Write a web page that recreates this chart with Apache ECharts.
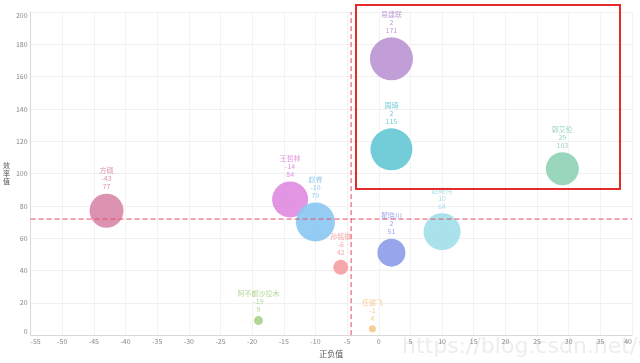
<!DOCTYPE html>
<html>
<head>
<meta charset="utf-8">
<script src="https://cdn.jsdelivr.net/npm/echarts@6/dist/echarts.min.js"></script>
<style>html,body{margin:0;padding:0;background:#fff;}#c{width:640px;height:363px;}</style>
</head>
<body>
<div id="c"></div>
<script>
const names = ['方硕','王哲林','赵睿','孙铭徽','阿不都沙拉木','任骏飞','翟晓川','易建联','周琦','赵继伟','郭艾伦'];
const xValues = [-43, -14, -10, -6, -19, -1, 2, 2, 2, 10, 29];
const yValues = [77, 84, 70, 42, 9, 4, 51, 171, 115, 64, 103];
const bubbleValues = [34, 36, 39, 15, 9, 7, 28, 43, 42, 37, 33];
const xTicks = {min: -55, max: 40, interval: 5};
const yTicks = {min: 0, max: 200, interval: 20};
const palette = ['#d98aaa','#df8ce0','#8cc8f2','#f4a0a2','#aad48c','#f6c98c','#8e9ee8','#bc96d2','#66c9d6','#a2dfe8','#90d2b5'];

const avg = a => a.reduce((s, v) => s + v, 0) / a.length;
const xAvg = avg(xValues), yAvg = avg(yValues);

const chart = echarts.init(document.getElementById('c'));
const FONT = '"Noto Sans CJK SC", "Noto Sans", sans-serif';
const RED = '#ea4a62';
function avgLine(data) {
  return {
    type: 'line', data: data, z: 4, silent: true, symbol: 'none', showSymbol: false,
    lineStyle: {color: RED, type: [5, 3], width: 1},
    itemStyle: {color: RED},
    emphasis: {disabled: true}
  };
}
chart.setOption({
  animation: false,
  textStyle: {fontFamily: FONT},
  grid: {left: 26, right: 8, top: 12, bottom: 23, containLabel: false},
  tooltip: {show: false},
  xAxis: {
    type: 'value', min: xTicks.min, max: xTicks.max, interval: xTicks.interval,
    name: '正负值', nameLocation: 'middle', nameGap: 11,
    nameTextStyle: {fontSize: 8, color: '#555', fontFamily: FONT},
    axisLine: {show: true, onZero: false, lineStyle: {color: '#d8d8d8'}},
    axisTick: {show: false},
    axisLabel: {fontSize: 7, color: '#888', margin: 3, alignMinLabel: 'left', alignMaxLabel: 'right'},
    splitLine: {show: true, lineStyle: {color: '#f2f2f2'}}
  },
  yAxis: {
    type: 'value', min: yTicks.min, max: yTicks.max, interval: yTicks.interval,
    name: '效\n率\n值', nameLocation: 'middle', nameGap: 15, nameRotate: 0,
    nameTextStyle: {fontSize: 7, color: '#555', lineHeight: 8, fontFamily: FONT},
    axisLine: {show: true, onZero: false, lineStyle: {color: '#d8d8d8'}},
    axisTick: {show: false},
    axisLabel: {fontSize: 7, color: '#888', margin: 3, verticalAlignMinLabel: 'bottom', verticalAlignMaxLabel: 'top'},
    splitLine: {show: true, lineStyle: {color: '#f0f0f0'}}
  },
  series: [{
    type: 'scatter',
    z: 3,
    data: names.map((n, i) => ({name: n, value: [xValues[i], yValues[i], bubbleValues[i]],
      itemStyle: {color: palette[i], opacity: 0.92},
      label: {color: palette[i]}})),
    symbolSize: v => v[2],
    label: {
      show: true, position: 'top', distance: 3, fontSize: 7, lineHeight: 8,
      formatter: p => p.name + '\n' + p.value[0] + '\n' + p.value[1]
    }
  },
  Object.assign(avgLine([
    [xTicks.min, yAvg],
    {value: [xTicks.max, yAvg], label: {show: true, position: 'top', align: 'right', offset: [0, 2],
      formatter: '效率值平均线', fontSize: 7, color: RED}}
  ]), {label: {show: false}}),
  avgLine([[xAvg, yTicks.min], [xAvg, yTicks.max]])
  ],
  graphic: [
    {type: 'text', left: 402, top: 336, silent: true, z: 0,
      style: {text: 'https://blog.csdn.net/yuanxiaole', font: '22px "DejaVu Sans", sans-serif', fill: 'rgba(190,190,190,0.28)'}},
    {type: 'rect', shape: {x: 356, y: 5, width: 264, height: 184}, z: 100,
      style: {fill: 'none', stroke: '#e52b2b', lineWidth: 2}}
  ]
});
</script>
</body>
</html>
